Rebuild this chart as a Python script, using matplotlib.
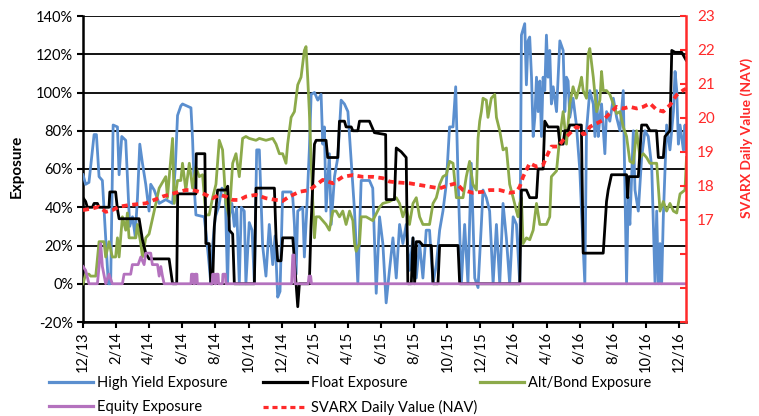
import numpy as np
import matplotlib
matplotlib.use('Agg')
import matplotlib.pyplot as plt
from matplotlib.lines import Line2D
from matplotlib.ticker import FuncFormatter, MultipleLocator

plt.rcParams['font.family'] = ['Lato', 'DejaVu Sans']
plt.rcParams['font.size'] = 10.5

# ------------------- Data (months since 12/13, % or NAV) ------------------- #
tick_labels = ['12/13', '2/14', '4/14', '6/14', '8/14', '10/14', '12/14', '2/15', '4/15',
               '6/15', '8/15', '10/15', '12/15', '2/16', '4/16', '6/16', '8/16', '10/16', '12/16']

high_yield = [
    (0.0, 57), (0.16, 52), (0.36, 53), (0.67, 78), (0.81, 78), (0.97, 56), (1.17, 54),
    (1.53, 0), (1.67, 0), (1.82, 83), (2.08, 82), (2.18, 57), (2.34, 77), (2.58, 75),
    (2.68, 56), (2.82, 30), (2.99, 35), (3.15, 25), (3.29, 45), (3.43, 73), (3.59, 63),
    (3.79, 52), (3.99, 38), (4.09, 52), (4.30, 49), (4.60, 42), (5.0, 44), (5.41, 42),
    (5.57, 60), (5.71, 88), (5.91, 93), (6.01, 94), (6.52, 92), (6.62, 75), (6.72, 50),
    (6.82, 36), (7.32, 35), (7.46, 24), (7.62, 10), (7.72, 0), (7.83, 20), (7.99, 35),
    (8.19, 40), (8.39, 50), (8.59, 48), (8.73, 0), (8.83, 35), (8.99, 42), (9.14, 30),
    (9.28, 40), (9.44, 0), (9.56, 40), (9.74, 38), (9.84, 0), (10.04, 32), (10.21, 28),
    (10.35, 0), (10.49, 70), (10.65, 70), (10.85, 20), (11.05, 4), (11.25, 31), (11.46, 10),
    (11.6, 25), (11.76, -7), (11.9, -4), (12.06, 48), (12.57, 48), (12.67, 45), (12.77, 31),
    (12.87, 5), (12.97, 38), (13.27, 40), (13.37, 14), (13.51, 38), (13.67, 70), (13.78, 99),
    (13.98, 100), (14.18, 96), (14.38, 99), (14.48, 73), (14.58, 82), (14.68, 38), (14.88, 68),
    (14.99, 31), (15.19, 56), (15.39, 66), (15.59, 96), (15.79, 94), (16.0, 90), (16.1, 77),
    (16.4, 38), (16.6, 0), (16.8, 54), (17.3, 54), (17.5, 50), (17.71, -5), (17.91, 35),
    (18.11, 21), (18.31, -10), (18.51, 7), (18.72, 24), (18.92, 3), (19.12, 31), (19.32, 21),
    (19.52, 31), (19.72, 7), (19.93, 24), (20.13, 3), (20.33, 21), (20.53, 3), (20.73, 28),
    (20.93, 28), (21.14, 0), (21.34, 10), (21.54, 28), (21.74, 38), (21.94, 52), (22.14, 82),
    (22.35, 82), (22.51, 103), (22.65, 56), (22.85, 0), (23.05, 31), (23.25, 0), (23.45, 63),
    (23.66, 3), (23.86, -2), (24.06, 31), (24.16, 49), (24.36, 45), (24.56, 38), (24.77, 0),
    (24.97, 31), (25.17, 0), (25.37, 42), (25.57, 24), (25.77, 0), (25.98, 35), (26.18, 31),
    (26.38, 0), (26.48, 130), (26.68, 136), (26.78, 104), (26.88, 127), (26.98, 129),
    (27.09, 108), (27.19, 77), (27.29, 87), (27.39, 108), (27.49, 90), (27.59, 106),
    (27.69, 77), (27.79, 108), (27.89, 101), (27.99, 130), (28.09, 108), (28.19, 122),
    (28.29, 94), (28.4, 103), (28.6, 90), (28.8, 127), (29.0, 122), (29.1, 90), (29.2, 108),
    (29.3, 106), (29.4, 87), (29.6, 97), (29.8, 83), (30.01, 59), (30.11, 38), (30.31, 0),
    (30.41, 80), (30.61, 101), (30.82, 94), (30.92, 77), (31.02, 101), (31.12, 77),
    (31.22, 87), (31.32, 94), (31.52, 68), (31.62, 90), (31.82, 85), (32.03, 97), (32.23, 87),
    (32.43, 80), (32.63, 101), (32.83, 0), (32.93, 45), (33.03, 31), (33.24, 80), (33.34, 49),
    (33.54, 38), (33.74, 66), (33.94, 80), (34.14, 77), (34.35, 61), (34.55, 0), (34.65, 38),
    (34.75, 0), (34.85, 21), (34.95, 0), (35.05, 35), (35.25, 83), (35.45, 70), (35.66, 90),
    (35.76, 111), (35.86, 101), (35.96, 73), (36.06, 83), (36.26, 70), (36.36, 83), (36.42, 70),
]

float_exp = [
    (0.0, 45), (0.16, 43), (0.26, 40), (0.57, 40), (0.67, 42), (0.87, 42), (0.97, 40),
    (1.57, 40), (1.62, 48), (1.97, 48), (2.08, 39), (2.18, 34), (3.39, 34), (3.59, 23),
    (3.79, 16), (3.99, 13), (5.2, 13), (5.41, 0), (5.66, 0), (5.72, 47), (6.82, 47),
    (6.84, 68), (7.36, 68), (7.42, 21), (7.62, 21), (7.72, 0), (7.83, 0), (7.93, 30),
    (8.13, 49), (8.64, 49), (8.74, 51), (8.84, 28), (9.04, 26), (9.14, 0), (10.35, 0),
    (10.45, 50), (11.56, 50), (11.66, 24), (11.76, 12), (11.96, 12), (12.06, 24), (12.67, 24),
    (12.77, 12), (12.97, -12), (13.07, 0), (13.67, 0), (13.77, 30), (13.98, 73), (14.08, 75),
    (14.68, 75), (14.78, 66), (15.39, 66), (15.49, 85), (15.79, 85), (15.89, 82), (16.2, 82),
    (16.3, 80), (16.6, 80), (16.7, 85), (17.3, 85), (17.6, 79), (18.28, 78), (18.31, 44),
    (18.81, 44), (18.92, 71), (19.22, 69), (19.52, 66), (19.62, 0), (19.83, 0), (19.93, 24),
    (20.03, 0), (20.13, 22), (20.33, 22), (20.53, 20), (21.04, 20), (21.14, 0), (21.44, 0),
    (21.54, 20), (22.65, 20), (22.75, 0), (26.38, 0), (26.48, 49), (26.78, 49), (26.98, 45),
    (27.39, 45), (27.49, 60), (27.79, 60), (27.89, 85), (28.09, 82), (28.69, 82), (28.8, 73),
    (29.0, 73), (29.1, 80), (29.3, 80), (29.4, 83), (30.1, 83), (30.21, 16), (31.42, 16),
    (31.62, 43), (31.72, 49), (31.92, 57), (32.83, 57), (32.9, 45), (32.96, 56), (33.54, 56),
    (33.74, 83), (34.04, 83), (34.24, 80), (34.64, 80), (34.75, 66), (35.05, 66), (35.15, 77),
    (35.45, 80), (35.56, 122), (35.76, 121), (36.16, 121), (36.42, 117),
]

alt_bond = [
    (0.0, 0), (0.16, 5), (0.36, 5), (0.46, 4), (0.77, 4), (0.97, 22), (1.27, 22), (1.37, 14),
    (1.57, 22), (1.77, 14), (1.97, 14), (2.08, 24), (2.18, 14), (2.38, 35), (2.58, 28),
    (2.68, 37), (2.78, 24), (3.19, 24), (3.29, 31), (3.49, 21), (3.59, 14), (3.79, 24),
    (3.99, 26), (4.30, 38), (4.60, 50), (5.0, 56), (5.1, 45), (5.41, 76), (5.51, 42),
    (5.71, 54), (5.91, 54), (6.01, 63), (6.21, 49), (6.42, 63), (6.62, 50), (6.82, 61),
    (7.02, 56), (7.22, 57), (7.42, 36), (7.62, 36), (7.83, 45), (8.03, 52), (8.23, 75),
    (8.43, 70), (8.63, 42), (8.83, 35), (9.04, 63), (9.24, 68), (9.44, 56), (9.64, 76),
    (9.84, 77), (10.04, 76), (10.45, 75), (10.65, 76), (11.05, 75), (11.46, 76), (11.66, 73),
    (11.86, 68), (12.06, 68), (12.26, 63), (12.36, 73), (12.57, 87), (12.77, 90), (12.97, 104),
    (13.17, 108), (13.37, 122), (13.47, 124), (13.57, 108), (13.67, 90), (13.88, 42),
    (13.98, 24), (14.08, 35), (14.28, 35), (14.68, 31), (14.88, 28), (15.09, 38), (15.29, 38),
    (15.49, 35), (15.69, 38), (15.89, 31), (16.1, 38), (16.3, 33), (16.4, 21), (16.5, 17),
    (16.7, 21), (16.8, 35), (17.1, 35), (17.5, 33), (17.91, 40), (18.11, 42), (18.51, 43),
    (18.92, 45), (19.12, 42), (19.32, 35), (19.52, 40), (19.72, 31), (19.93, 42), (20.13, 45),
    (20.33, 35), (20.53, 31), (20.93, 31), (21.14, 42), (21.34, 45), (21.54, 52), (21.74, 56),
    (21.94, 57), (22.14, 64), (22.35, 63), (22.55, 45), (22.95, 45), (23.15, 56), (23.35, 64),
    (23.55, 52), (23.76, 49), (23.86, 76), (23.96, 85), (24.06, 90), (24.16, 97), (24.36, 96),
    (24.46, 87), (24.66, 97), (24.87, 99), (24.97, 87), (25.17, 80), (25.37, 70), (25.57, 71),
    (25.77, 52), (25.98, 45), (26.18, 38), (26.28, 35), (26.38, 42), (26.48, 45), (26.58, 21),
    (26.78, 24), (26.98, 23), (27.19, 28), (27.39, 42), (27.59, 31), (27.99, 31), (28.19, 35),
    (28.29, 56), (28.6, 59), (28.8, 77), (29.0, 90), (29.2, 73), (29.4, 94), (29.6, 103),
    (29.8, 97), (30.01, 104), (30.11, 108), (30.21, 101), (30.41, 97), (30.51, 120),
    (30.61, 123), (30.82, 108), (31.02, 90), (31.22, 96), (31.32, 111), (31.42, 101),
    (31.62, 101), (31.82, 99), (32.03, 94), (32.23, 89), (32.43, 90), (32.63, 82), (32.83, 77),
    (33.03, 64), (33.24, 63), (33.44, 80), (33.64, 66), (33.84, 68), (34.04, 66), (34.24, 63),
    (34.65, 63), (34.85, 38), (35.05, 43), (35.25, 38), (35.45, 42), (35.66, 38), (35.86, 37),
    (36.06, 47), (36.36, 49), (36.45, 66),
]

equity = [
    (0.0, 9), (0.16, 7), (0.36, 0), (0.87, 0), (0.97, 9), (1.07, 21), (1.17, 9), (1.37, 0),
    (1.57, 5), (1.77, 0), (2.38, 0), (2.48, 5), (2.88, 5), (2.98, 10), (3.33, 10), (3.49, 14),
    (3.69, 10), (3.79, 16), (4.09, 16), (4.19, 10), (4.5, 10), (4.6, 4), (4.7, 9), (4.8, 4),
    (4.9, 0), (6.52, 0), (6.55, 5), (6.65, 5), (6.68, 0), (6.75, 0), (6.78, 5), (6.88, 5),
    (6.91, 0), (7.8, 0), (7.83, 5), (7.93, 5), (7.96, 0), (8.03, 0), (8.06, 5), (8.16, 5),
    (8.19, 0), (8.42, 0), (8.45, 5), (8.6, 5), (8.63, 0), (12.6, 0), (12.67, 15), (12.75, 15),
    (12.8, 0), (13.6, 0), (13.65, 4), (13.75, 4), (13.8, 0), (36.42, 0),
]

nav = [
    (0.0, 17.29), (0.57, 17.34), (0.97, 17.39), (1.37, 17.24), (1.77, 17.29), (2.18, 17.39),
    (2.78, 17.44), (3.79, 17.49), (4.8, 17.69), (5.81, 17.83), (6.21, 17.88), (6.62, 17.88),
    (7.02, 17.83), (7.42, 17.74), (7.83, 17.64), (8.23, 17.74), (8.63, 17.69), (9.04, 17.59),
    (9.44, 17.59), (9.84, 17.69), (10.45, 17.74), (11.05, 17.64), (11.66, 17.59), (12.06, 17.56),
    (12.46, 17.69), (13.07, 17.83), (13.67, 17.88), (14.08, 18.03), (14.48, 18.18), (15.09, 18.08),
    (15.69, 18.27), (16.3, 18.32), (16.9, 18.27), (17.5, 18.27), (18.11, 18.23), (18.51, 18.13),
    (19.12, 18.10), (19.72, 18.08), (20.33, 18.03), (20.93, 17.98), (21.54, 17.93), (22.14, 18.03),
    (22.55, 18.08), (22.95, 17.88), (23.55, 17.80), (24.16, 17.83), (24.56, 17.88), (25.17, 17.88),
    (25.77, 17.80), (26.18, 17.83), (26.38, 17.98), (26.58, 18.27), (26.98, 18.67), (27.39, 18.57),
    (27.79, 18.62), (27.99, 18.86), (28.29, 19.16), (28.7, 19.16), (29.0, 19.35), (29.4, 19.55),
    (29.8, 19.74), (30.01, 19.70), (30.21, 19.52), (30.41, 19.55), (30.61, 19.74), (31.02, 19.84),
    (31.42, 19.94), (31.82, 20.14), (32.23, 20.33), (32.63, 20.28), (33.03, 20.33), (33.44, 20.28),
    (33.84, 20.33), (34.24, 20.43), (34.65, 20.24), (35.05, 20.19), (35.45, 20.38), (35.86, 20.68),
    (36.26, 20.82), (36.42, 20.86),
]

# ------------------- Styles ------------------- #
c_blue = '#5B8FCF'
c_black = '#000000'
c_green = '#8CAA4A'
c_purple = '#B472BE'
c_red = '#FF2A2A'
nav_dash = (0, (1.6, 1.2))

fig = plt.figure(figsize=(7.59, 4.16), dpi=100)
ax = fig.add_axes([83 / 759, 1 - 322 / 416, 603 / 759, 306 / 416])
ax2 = ax.twinx()

def xy(series):
    arr = np.array(series, dtype=float)
    return arr[:, 0], arr[:, 1]

ax.plot(*xy(high_yield), color=c_blue, lw=2.0, zorder=3, label='High Yield Exposure')
ax.plot(*xy(float_exp), color=c_black, lw=2.0, zorder=4, label='Float Exposure')
ax.plot(*xy(alt_bond), color=c_green, lw=2.0, zorder=3.5, label='Alt/Bond Exposure')
ax.plot(*xy(equity), color=c_purple, lw=2.0, zorder=5, label='Equity Exposure')
ax2.plot(*xy(nav), color=c_red, lw=2.7, ls=nav_dash, label='SVARX Daily Value (NAV)')

# left axis
ax.set_xlim(0, 36.42)
ax.set_ylim(-20, 140)
ax.yaxis.set_major_locator(MultipleLocator(20))
ax.yaxis.set_major_formatter(FuncFormatter(lambda v, p: f'{v:.0f}%'))
ax.grid(axis='y', color='black', lw=1.3)
ax.set_axisbelow(True)
ax.set_xticks(np.arange(0, 37, 2))
ax.set_xticklabels(tick_labels, rotation=90)
ax.tick_params(axis='x', direction='out', length=4, width=1.5, pad=3, labelsize=10.5)
ax.tick_params(axis='y', direction='out', length=4, width=1.5, pad=3, labelsize=10.5)
for s in ['top', 'right']:
    ax.spines[s].set_visible(False)
ax.spines['left'].set_linewidth(1.8)
ax.spines['bottom'].set_linewidth(1.8)
ax.set_ylabel('Exposure', fontweight='bold', fontsize=11)
ax.yaxis.set_label_coords(-0.098, 0.507)

# right axis
ax2.set_ylim(14, 23)
ax2.yaxis.set_major_locator(MultipleLocator(1))
ax2.yaxis.set_major_formatter(FuncFormatter(lambda v, p: f'{v:.0f}' if v >= 17 else ''))
ax2.tick_params(axis='y', colors=c_red, direction='in', length=4, width=1.5, labelsize=11, pad=8)
for s in ['top', 'left', 'bottom']:
    ax2.spines[s].set_visible(False)
ax2.spines['right'].set_color(c_red)
ax2.spines['right'].set_linewidth(1.8)
ax2.set_ylabel('SVARX Daily Value (NAV)', color=c_red, fontweight='bold', fontsize=10)
ax2.yaxis.set_label_coords(1.0896, 0.6)

# ------------------- Legend (three fixed-width columns) ------------------- #
cols = [
    [(c_blue, '-', 'High Yield Exposure'), (c_purple, '-', 'Equity Exposure')],
    [(c_black, '-', 'Float Exposure'), (c_red, nav_dash, 'SVARX Daily Value (NAV)')],
    [(c_green, '-', 'Alt/Bond Exposure')],
]
col_x = [49, 263, 480]
for x0, entries in zip(col_x, cols):
    handles = [Line2D([], [], color=c, ls=ls, lw=2.3) for c, ls, _ in entries]
    fig.legend(handles, [t for _, _, t in entries], loc='upper left',
               bbox_to_anchor=(x0 / 759, 1 - 376 / 416), frameon=False,
               handlelength=3.0, handletextpad=0.3, labelspacing=0.68,
               borderpad=0, borderaxespad=0, fontsize=10.5)

fig.savefig('out.png', dpi=100)
